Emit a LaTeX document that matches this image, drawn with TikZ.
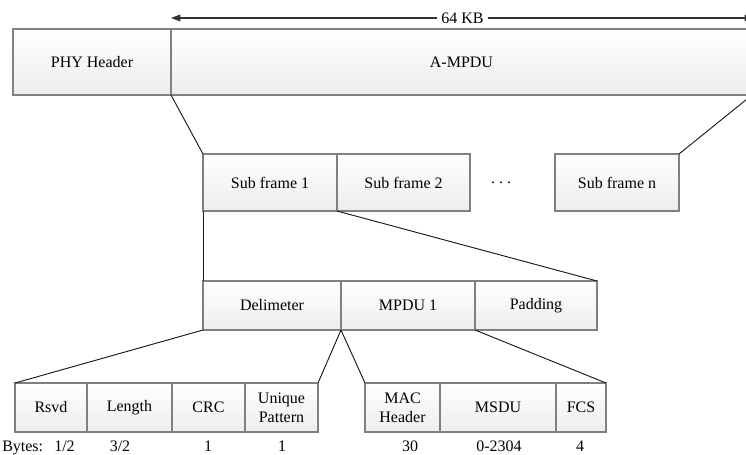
\documentclass[tikz,border=0pt]{standalone}
\usepackage{fontspec}
\setmainfont{LiberationSerif}[Extension=.ttf, UprightFont=*-Regular,
  BoldFont=*-Bold, ItalicFont=*-Italic, BoldItalicFont=*-BoldItalic]
\usetikzlibrary{arrows.meta}

% one frame field: name, left, top, right, bottom (px), text
\newcommand\framefield[6]{%
  \node[field, anchor=north west,
        minimum width={(#4-#2)*0.75pt}, minimum height={(#5-#3)*0.75pt}]
        (#1) at (#2,#3) {#6};}

\begin{document}
\begin{tikzpicture}[x=0.75pt, y=-0.75pt,
  txt/.style={font=\rmfamily\fontsize{12}{14.5}\selectfont},
  field/.style={txt, draw=black!50, line width=1pt, top color=white, bottom color=black!7,
    inner sep=0pt, outer sep=0pt, align=center},
  link/.style={draw=black!90, line width=0.7pt},
  bytes/.style={txt, anchor=base, inner sep=0pt},
  sizearrow/.style={draw=black!80, line width=0.8pt,
    {Triangle[length=7pt,width=5pt]}-{Triangle[length=7pt,width=5pt]}}]

\path[fill=white, use as bounding box] (0,0) rectangle (746,454);

% PPDU
\framefield{phy}{13}{29}{171}{95}{PHY Header}
\framefield{ampdu}{171}{29}{752}{95}{A-MPDU}

% overall size
\coordinate (kbL) at (171,18);
\coordinate (kbR) at (754,18);
\draw[sizearrow] (kbL) -- node[txt, fill=white, inner sep=3pt] (kb) {64 KB} (kbR);

% sub frames
\framefield{sf1}{203}{154}{337}{211}{Sub frame 1}
\framefield{sf2}{337}{154}{470}{211}{Sub frame 2}
\node[txt] (dots) at (501,183) {.\ .\ .};
\framefield{sfn}{555}{154}{679}{211}{Sub frame n}

% one sub frame
\framefield{delim}{203}{281}{341}{330}{Delimeter}
\framefield{mpdu}{341}{281}{475}{330}{MPDU 1}
\framefield{pad}{475}{281}{597}{330}{Padding}

% delimiter fields
\framefield{rsvd}{15}{383}{87}{432}{Rsvd}
\framefield{len}{87}{383}{172}{432}{Length}
\framefield{crc}{172}{383}{245}{432}{CRC}
\framefield{uniq}{245}{383}{318}{432}{Unique\\Pattern}

% MPDU fields
\framefield{mac}{365}{383}{440}{432}{MAC\\Header}
\framefield{msdu}{440}{383}{556}{432}{MSDU}
\framefield{fcs}{556}{383}{606}{432}{FCS}

% expansion lines
\draw[link] (phy.south east) -- (sf1.north west);
\draw[link] (ampdu.south east) -- (sfn.north east);
\draw[link] (sf1.south west) -- (delim.north west);
\draw[link] (sf1.south east) -- (pad.north east);
\draw[link] (delim.south west) -- (rsvd.north west);
\draw[link] (delim.south east) -- (uniq.north east);
\draw[link] (mpdu.south west) -- (mac.north west);
\draw[link] (mpdu.south east) -- (fcs.north east);

% field sizes in bytes
\node[bytes, anchor=base west] (blabel) at (2,451) {Bytes:};
\node[bytes] (b1) at (64.5,451) {1/2};
\node[bytes] (b2) at (120,451) {3/2};
\node[bytes] (b3) at (208,451) {1};
\node[bytes] (b4) at (282,451) {1};
\node[bytes] (b5) at (410,451) {30};
\node[bytes] (b6) at (499,451) {0-2304};
\node[bytes] (b7) at (580,451) {4};
\end{tikzpicture}
\end{document}
